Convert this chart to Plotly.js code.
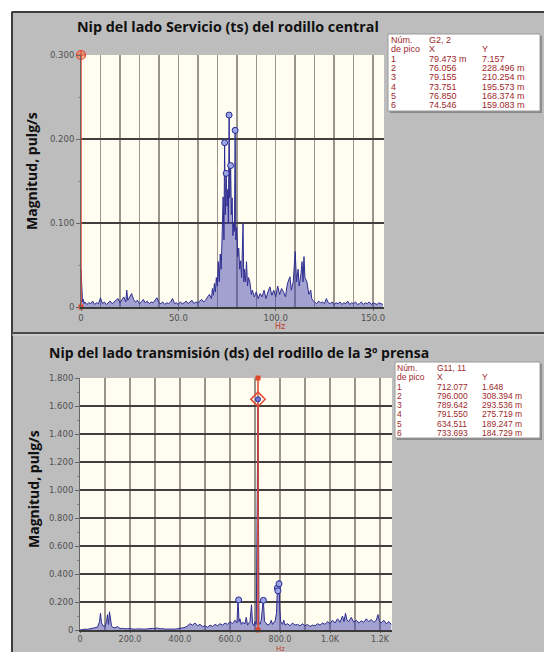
<!DOCTYPE html>
<html><head><meta charset="utf-8">
<script src="https://cdn.plot.ly/plotly-3.0.1.min.js"></script>
<style>body{margin:0;padding:0;background:#fff}#chart{width:544px;height:652px}</style>
</head><body><div id="chart"></div>
<script>
// ---------- DATA ----------
const topTitle = 'Nip del lado Servicio (ts) del rodillo central';
const botTitle = 'Nip del lado transmisión (ds) del rodillo de la 3º prensa';
const yTitle = 'Magnitud, pulg/s';

// top spectrum (Hz, pulg/s)
const topHz = [0,0.4,0.8,1.2,1.6,2,3,4,5,6,7,8,9,10,11,12,13,14,15,16,17,18,19,20,21,22,23,23.5,24,25,26,27,28,29,30,31,32,33,34,35,36,37,38,39,40,41,42,43,44,45,46,47,48,49,50,51,52,53,54,55,56,57,58,59,60,61,62,63,64,65,66,67,67.5,68,68.5,69,69.5,70,70.5,71,71.5,72,72.5,73,73.4,73.75,74.1,74.55,75,75.4,75.7,76.06,76.4,76.85,77.2,77.6,78,78.4,78.8,79.16,79.5,80,80.5,81,81.5,82,82.5,83.2,83.6,84,84.5,85,85.5,86,86.7,87.5,88,89,90,91,92,93,94,95,96,97,98,99,100,101,102,103,104,105,106,107.3,108,109,110,110.7,111.5,112,113,113.5,114,114.5,115,116,117,118,118.5,119,120,121,122,123,124,125,126,127,128,129,130,131,132,133,134,135,136,137,138,139,140,141,142,143,144,145,146,147,148,149,150,151,152,153,154,155];
const topMag = [0.045,0.012,0.006,0.009,0.004,0.006,0.003,0.005,0.004,0.007,0.003,0.005,0.004,0.011,0.004,0.006,0.003,0.005,0.007,0.004,0.006,0.008,0.010,0.005,0.009,0.012,0.006,0.020,0.008,0.013,0.016,0.009,0.006,0.008,0.004,0.006,0.009,0.005,0.007,0.004,0.006,0.005,0.008,0.011,0.005,0.004,0.006,0.003,0.005,0.004,0.006,0.010,0.004,0.005,0.003,0.006,0.004,0.005,0.007,0.004,0.006,0.008,0.004,0.006,0.005,0.007,0.009,0.006,0.008,0.012,0.015,0.010,0.022,0.014,0.028,0.018,0.035,0.025,0.054,0.030,0.063,0.045,0.090,0.131,0.080,0.1956,0.110,0.1591,0.120,0.140,0.100,0.2285,0.130,0.1684,0.110,0.130,0.085,0.100,0.090,0.2103,0.080,0.095,0.060,0.070,0.045,0.055,0.035,0.100,0.030,0.045,0.030,0.054,0.025,0.035,0.030,0.015,0.020,0.012,0.018,0.010,0.016,0.012,0.020,0.010,0.018,0.024,0.014,0.020,0.012,0.025,0.015,0.022,0.018,0.012,0.028,0.036,0.020,0.030,0.066,0.030,0.045,0.025,0.040,0.054,0.030,0.060,0.035,0.030,0.015,0.020,0.010,0.008,0.006,0.004,0.007,0.005,0.006,0.004,0.010,0.005,0.004,0.006,0.003,0.005,0.004,0.006,0.003,0.005,0.004,0.007,0.003,0.005,0.004,0.006,0.003,0.004,0.006,0.003,0.005,0.004,0.006,0.003,0.005,0.004,0.003,0.005,0.004,0.003];
const topPeakHz = [76.056,79.155,73.751,76.850,74.546];
const topPeakMag = [0.2285,0.2103,0.1956,0.1684,0.1591];

// bottom spectrum (Hz, pulg/s)
const botHz = [0,10,20,30,40,50,60,70,78,82,86,92,100,106,110,114,118,122,126,130,140,150,155,160,170,180,190,200,210,220,230,240,250,260,270,280,290,300,310,320,330,340,350,360,370,380,390,400,410,420,430,440,450,460,470,480,490,500,510,520,530,540,550,560,570,580,590,600,610,620,628,632,636,640,645,650,660,665,670,680,686,690,695,700,705,712,716,720,725,733,738,745,750,760,765,770,775,780,786,789.6,791.6,794,796,799,803,810,815,820,830,840,850,860,870,880,890,900,910,920,930,940,950,960,970,980,990,1000,1010,1020,1030,1040,1050,1056,1062,1068,1075,1085,1095,1105,1115,1125,1135,1145,1155,1165,1175,1185,1192,1198,1205,1215,1225,1235,1245];
const botMag = [0.000,0.004,0.006,0.005,0.008,0.010,0.012,0.020,0.060,0.120,0.050,0.030,0.025,0.060,0.110,0.040,0.130,0.070,0.030,0.020,0.015,0.025,0.018,0.010,0.012,0.008,0.010,0.007,0.009,0.006,0.008,0.005,0.007,0.006,0.009,0.008,0.012,0.010,0.015,0.008,0.010,0.006,0.008,0.005,0.007,0.006,0.008,0.010,0.012,0.018,0.030,0.045,0.035,0.050,0.030,0.040,0.025,0.030,0.020,0.035,0.025,0.040,0.030,0.045,0.035,0.050,0.040,0.060,0.045,0.070,0.050,0.230,0.060,0.080,0.040,0.055,0.045,0.090,0.035,0.060,0.180,0.050,0.030,0.060,0.040,1.648,0.050,0.040,0.070,0.225,0.060,0.050,0.035,0.045,0.070,0.040,0.055,0.060,0.120,0.300,0.280,0.340,0.355,0.150,0.060,0.040,0.070,0.035,0.045,0.030,0.050,0.035,0.040,0.030,0.045,0.030,0.040,0.025,0.035,0.030,0.045,0.035,0.050,0.040,0.060,0.045,0.070,0.050,0.080,0.055,0.100,0.060,0.120,0.070,0.060,0.090,0.055,0.070,0.050,0.065,0.055,0.080,0.060,0.075,0.055,0.070,0.110,0.060,0.050,0.070,0.045,0.060,0.040];
const botPeakHz = [634.511,733.693,789.642,791.550,796.000];
const botPeakMag = [0.215,0.212,0.300,0.280,0.330];
const botCursorHz = 712.077, botCursorMag = 1.648;

// tick labels
const topXTickVals = [0,50,100,150];
const topXTickText = ['0','50.0','100.0','150.0'];
const topYTickVals = [0,0.1,0.2,0.3];
const topYTickText = ['0','0.100','0.200','0.300'];
const botXTickVals = [0,200,400,600,800,1000,1200];
const botXTickText = ['0','200.0','400.0','600.0','800.0','1.0K','1.2K'];
const botYTickVals = [0,0.2,0.4,0.6,0.8,1.0,1.2,1.4,1.6,1.8];
const botYTickText = ['0','0.200','0.400','0.600','0.800','1.000','1.200','1.400','1.600','1.800'];

// peak tables
const tabCol1 = ['Núm.','de pico','1','2','3','4','5','6'];
const topTabX = ['G2, 2','X','79.473 m','76.056','79.155','73.751','76.850','74.546'];
const topTabY = ['','Y','7.157','228.496 m','210.254 m','195.573 m','168.374 m','159.083 m'];
const botTabX = ['G11, 11','X','712.077','796.000','789.642','791.550','634.511','733.693'];
const botTabY = ['','Y','1.648','308.394 m','293.536 m','275.719 m','189.247 m','184.729 m'];

// ---------- LAYOUT HELPERS ----------
const W = 544, H = 652;
const px = v => v / W;
const py = v => 1 - v / H;

const lineBlue = '#2e2e92';
const fillBlue = 'rgba(70,70,175,0.5)';
const red = '#e0482e';
const tickFont = {family: 'DejaVu Sans, sans-serif', size: 8.5, color: '#505050'};

const traces = [
  {x: topHz, y: topMag, type: 'scatter', mode: 'lines', xaxis: 'x', yaxis: 'y',
   line: {color: lineBlue, width: 1}, fill: 'tozeroy', fillcolor: fillBlue, hoverinfo: 'skip'},
  {x: topPeakHz, y: topPeakMag, type: 'scatter', mode: 'markers', xaxis: 'x', yaxis: 'y',
   marker: {symbol: 'circle', size: 6, color: '#9aa6e6', line: {color: '#2a2a90', width: 1}}},
  {x: [0, 0], y: [0, 0.3], type: 'scatter', mode: 'lines', xaxis: 'x', yaxis: 'y',
   line: {color: red, width: 1.5}, cliponaxis: false},
  {x: [0], y: [0.3], type: 'scatter', mode: 'markers', xaxis: 'x', yaxis: 'y', cliponaxis: false,
   marker: {symbol: 'circle-cross', size: 9, color: 'rgba(240,130,90,0.6)', line: {color: red, width: 1.2}}},
  {x: [0], y: [0], type: 'scatter', mode: 'markers', xaxis: 'x', yaxis: 'y', cliponaxis: false,
   marker: {symbol: 'square', size: 5, color: red}},

  {x: botHz, y: botMag, type: 'scatter', mode: 'lines', xaxis: 'x2', yaxis: 'y2',
   line: {color: lineBlue, width: 1}, fill: 'tozeroy', fillcolor: fillBlue, hoverinfo: 'skip'},
  {x: botPeakHz, y: botPeakMag, type: 'scatter', mode: 'markers', xaxis: 'x2', yaxis: 'y2',
   marker: {symbol: 'circle', size: 6, color: '#9aa6e6', line: {color: '#2a2a90', width: 1}}},
  {x: [botCursorHz, botCursorHz], y: [0, 1.8], type: 'scatter', mode: 'lines', xaxis: 'x2', yaxis: 'y2',
   line: {color: red, width: 1.5}, cliponaxis: false},
  {x: [botCursorHz], y: [botCursorMag], type: 'scatter', mode: 'markers', xaxis: 'x2', yaxis: 'y2', cliponaxis: false,
   marker: {symbol: 'diamond', size: 11, color: 'rgba(255,255,255,0.2)', line: {color: red, width: 1.5}}},
  {x: [botCursorHz], y: [botCursorMag], type: 'scatter', mode: 'markers', xaxis: 'x2', yaxis: 'y2', cliponaxis: false,
   marker: {symbol: 'circle', size: 5, color: '#6c78d8', line: {color: '#2a2a90', width: 1}}},
  {x: [botCursorHz, botCursorHz], y: [0, 1.8], type: 'scatter', mode: 'markers', xaxis: 'x2', yaxis: 'y2', cliponaxis: false,
   marker: {symbol: 'square', size: 5, color: red}}
];

function xAxis(domain, range, tv, tt, minorDt, anchor) {
  return {domain, range, anchor, tickvals: tv, ticktext: tt, showgrid: true,
    gridcolor: '#9a948c', gridwidth: 1.5, zeroline: false, showline: true, linecolor: '#3a3a3a', linewidth: 1.5,
    ticks: 'outside', ticklen: 2, tickcolor: '#666', tickfont: tickFont,
    minor: {dtick: minorDt, tick0: 0, showgrid: true, gridcolor: '#9a948c', gridwidth: 1.5, ticks: ''},
    fixedrange: true};
}
function yAxis(domain, range, tv, tt, minorDt, anchor) {
  return {domain, range, anchor, tickvals: tv, ticktext: tt, showgrid: true,
    gridcolor: '#433d3d', gridwidth: 1.5, zeroline: false, showline: true, linecolor: '#666', linewidth: 1,
    ticks: 'outside', ticklen: 4, tickcolor: '#666', tickfont: tickFont,
    minor: {dtick: minorDt, tick0: 0, showgrid: false, ticks: 'outside', ticklen: 2, tickcolor: '#888'},
    fixedrange: true};
}

const xBot = xAxis([px(80), px(392)], [0, 1248], botXTickVals, botXTickText, 100, 'y2');
xBot.ticklen = 1;
xBot.tickfont = Object.assign({}, tickFont, {size: 8});

const layout = {
  width: W, height: H, margin: {l: 0, r: 0, t: 0, b: 0},
  paper_bgcolor: '#bdbdbd', plot_bgcolor: '#fffcf0', showlegend: false,
  xaxis: xAxis([px(81), px(384)], [0, 155.6], topXTickVals, topXTickText, 10, 'y'),
  yaxis: yAxis([py(307), py(55)], [0, 0.3], topYTickVals, topYTickText, 0.05, 'x'),
  xaxis2: xBot,
  yaxis2: yAxis([py(630), py(378)], [0, 1.8], botYTickVals, botYTickText, 0.1, 'x2'),
  shapes: [
    {type: 'rect', xref: 'paper', yref: 'paper', x0: 0, x1: 1, y0: py(11), y1: 1, fillcolor: '#fff', line: {width: 0}},
    {type: 'rect', xref: 'paper', yref: 'paper', x0: 0, x1: px(11), y0: 0, y1: 1, fillcolor: '#fff', line: {width: 0}},
    {type: 'line', xref: 'paper', yref: 'paper', x0: px(12), x1: 1, y0: py(12), y1: py(12), line: {color: '#3c3c3c', width: 2}},
    {type: 'line', xref: 'paper', yref: 'paper', x0: px(12), x1: px(12), y0: 0, y1: py(12), line: {color: '#3c3c3c', width: 2}},
    {type: 'line', xref: 'paper', yref: 'paper', x0: px(12), x1: 1, y0: py(333), y1: py(333), line: {color: '#4a4a4a', width: 2}},
    {type: 'line', xref: 'paper', yref: 'paper', x0: px(12), x1: 1, y0: py(335), y1: py(335), line: {color: '#d8d8d8', width: 1}},
    // table boxes (shadow + box)
    {type: 'rect', xref: 'paper', yref: 'paper', x0: px(390), x1: px(542), y0: py(113), y1: py(36), fillcolor: '#8a8a8a', line: {width: 0}},
    {type: 'rect', xref: 'paper', yref: 'paper', x0: px(388), x1: px(540), y0: py(111), y1: py(34), fillcolor: '#ffffff', line: {color: '#9a9a9a', width: 1}},
    {type: 'rect', xref: 'paper', yref: 'paper', x0: px(397), x1: px(542), y0: py(440), y1: py(364), fillcolor: '#8a8a8a', line: {width: 0}},
    {type: 'rect', xref: 'paper', yref: 'paper', x0: px(395), x1: px(540), y0: py(438), y1: py(362), fillcolor: '#ffffff', line: {color: '#9a9a9a', width: 1}}
  ],
  annotations: []
};

const A = layout.annotations;
A.push({xref: 'paper', yref: 'paper', x: px(75), y: py(27), xanchor: 'left', yanchor: 'middle', showarrow: false,
  text: '<b>' + topTitle + '</b>', font: {family: 'Open Sans, sans-serif', size: 14.3, color: '#111'}});
A.push({xref: 'paper', yref: 'paper', x: px(47), y: py(352), xanchor: 'left', yanchor: 'middle', showarrow: false,
  text: '<b>' + botTitle + '</b>', font: {family: 'Open Sans, sans-serif', size: 14, color: '#111'}});
A.push({xref: 'paper', yref: 'paper', x: px(32), y: py(171), xanchor: 'center', yanchor: 'middle', showarrow: false, textangle: -90,
  text: '<b>' + yTitle + '</b>', font: {family: 'Open Sans, sans-serif', size: 14, color: '#111'}});
A.push({xref: 'paper', yref: 'paper', x: px(33), y: py(489), xanchor: 'center', yanchor: 'middle', showarrow: false, textangle: -90,
  text: '<b>' + yTitle + '</b>', font: {family: 'Open Sans, sans-serif', size: 14, color: '#111'}});
A.push({xref: 'paper', yref: 'paper', x: px(280), y: py(326), xanchor: 'center', yanchor: 'middle', showarrow: false,
  text: 'Hz', font: {family: 'DejaVu Sans, sans-serif', size: 8, color: '#c0392b'}});
A.push({xref: 'paper', yref: 'paper', x: px(280), y: py(649), xanchor: 'center', yanchor: 'middle', showarrow: false,
  borderpad: 0, text: 'Hz', font: {family: 'DejaVu Sans, sans-serif', size: 7, color: '#c0392b'}});

function table(col2, col3, x1, x2, x3, y0, dy, fs) {
  const f = {family: 'Liberation Sans, Arial, sans-serif', size: fs, color: '#a0282a'};
  for (let i = 0; i < tabCol1.length; i++) {
    const yy = py(y0 + i * dy);
    [[tabCol1[i], x1], [col2[i], x2], [col3[i], x3]].forEach(([t, xx]) => {
      if (t) A.push({xref: 'paper', yref: 'paper', x: px(xx), y: yy, xanchor: 'left', yanchor: 'middle',
        showarrow: false, borderpad: 0, text: t, font: f});
    });
  }
}
table(topTabX, topTabY, 390, 428, 481, 40, 9.3, 9);
table(botTabX, botTabY, 396, 436, 481, 368, 9.25, 8.5);

Plotly.newPlot('chart', traces, layout, {displayModeBar: false, staticPlot: true});
</script>
</body></html>
